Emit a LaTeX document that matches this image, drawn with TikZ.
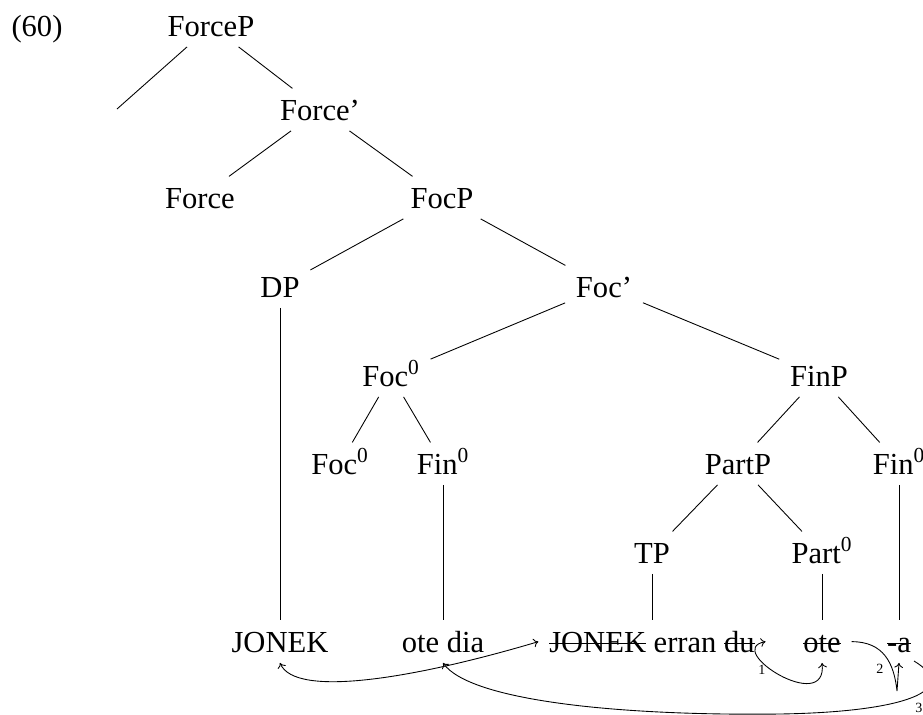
\documentclass[tikz,border=0pt]{standalone}
\usepackage{fontspec}
\setmainfont{Liberation Serif}
\usetikzlibrary{arrows.meta}
\newsavebox\strkbox
\newcommand\strk[1]{\sbox\strkbox{#1}\rlap{\rule[0.27em]{\wd\strkbox}{0.6pt}}\usebox\strkbox}
\begin{document}
\begin{tikzpicture}[x=0.02cm,y=-0.02cm,
  tn/.style={anchor=base, inner sep=6pt, text height=11.8pt, text depth=0pt,
             font=\fontsize{17.4}{20}\selectfont},
  branch/.style={line width=0.5pt},
  mv/.style={line width=0.5pt, -{To[length=2.8pt,width=5pt]}},
  mvb/.style={line width=0.5pt, {To[length=2.8pt,width=5pt]}-{To[length=2.8pt,width=5pt]}},
  lbl/.style={font=\fontsize{8}{9}\selectfont, inner sep=0pt}]
\useasboundingbox (0,0) rectangle (923,714);
\clip (0,0) rectangle (923,714);

% example number
\node[tn] (num) at (37,36) {(60)};

% tree nodes
\node[tn] (forcep)   at (211,36)  {ForceP};
\coordinate (e0) at (117,109);
\node[tn] (forcebar) at (320,120) {Force’};
\node[tn] (force)    at (200,208) {Force};
\node[tn] (focp)     at (442,208) {FocP};
\node[tn] (dp)       at (280,297) {DP};
\node[tn] (focbar)   at (604,297) {Foc’};
\node[tn] (foc0)     at (391,386) {Foc\textsuperscript{0}};
\node[tn] (finp)     at (819,386) {FinP};
\node[tn] (foc0b)    at (340,474) {Foc\textsuperscript{0}};
\node[tn] (fin0)     at (443,474) {Fin\textsuperscript{0}};
\node[tn] (partp)    at (738,474) {PartP};
\node[tn] (fin0r)    at (899,474) {Fin\textsuperscript{0}};
\node[tn] (tp)       at (652,563) {TP};
\node[tn] (part0)    at (822,563) {Part\textsuperscript{0}};

% terminal strings
\node[tn] (jonek)  at (280,652) {JONEK};
\node[tn] (otedia) at (443,652) {ote dia};
\node[tn] (jed)    at (652,652) {\strk{JONEK} erran \strk{du}};
\node[tn] (ote)    at (822,652) {\strk{ote}};
\node[tn] (minusa) at (899,652) {\strk{-a}};

% branches
\draw[branch] (forcep) -- (e0);
\draw[branch] (forcep) -- (forcebar);
\draw[branch] (forcebar) -- (force);
\draw[branch] (forcebar) -- (focp);
\draw[branch] (focp) -- (dp);
\draw[branch] (focp) -- (focbar);
\draw[branch] (dp) -- (jonek);
\draw[branch] (focbar) -- (foc0);
\draw[branch] (focbar) -- (finp);
\draw[branch] (foc0) -- (foc0b);
\draw[branch] (foc0) -- (fin0);
\draw[branch] (fin0) -- (otedia);
\draw[branch] (finp) -- (partp);
\draw[branch] (finp) -- (fin0r);
\draw[branch] (partp) -- (tp);
\draw[branch] (partp) -- (part0);
\draw[branch] (tp) -- (jed);
\draw[branch] (part0) -- (ote);
\draw[branch] (fin0r) -- (minusa);

% movement arrows
\coordinate (v2) at (897,691);
\coordinate (s3) at (914,661);
\coordinate (m3) at (780,714);
\draw[mvb] (jed.west) .. controls +(-121,36) and +(15,36) .. (jonek.south);
\draw[mvb] (jed.east) .. controls +(-43,8) and +(6,53) .. (ote.south);
\draw[mv] (ote.east) .. controls +(32,0) and +(-3,-28) .. (v2) -- (minusa.south);
\draw[mv] (s3) .. controls +(48,29) and +(125,-2) .. (m3) .. controls +(-160,2) and +(27,38) .. (otedia.south);

% arrow labels
\node[lbl] (l1) at (762,670) {1};
\node[lbl] (l2) at (880,669) {2};
\node[lbl] (l3) at (919,708) {3};
\end{tikzpicture}
\end{document}
